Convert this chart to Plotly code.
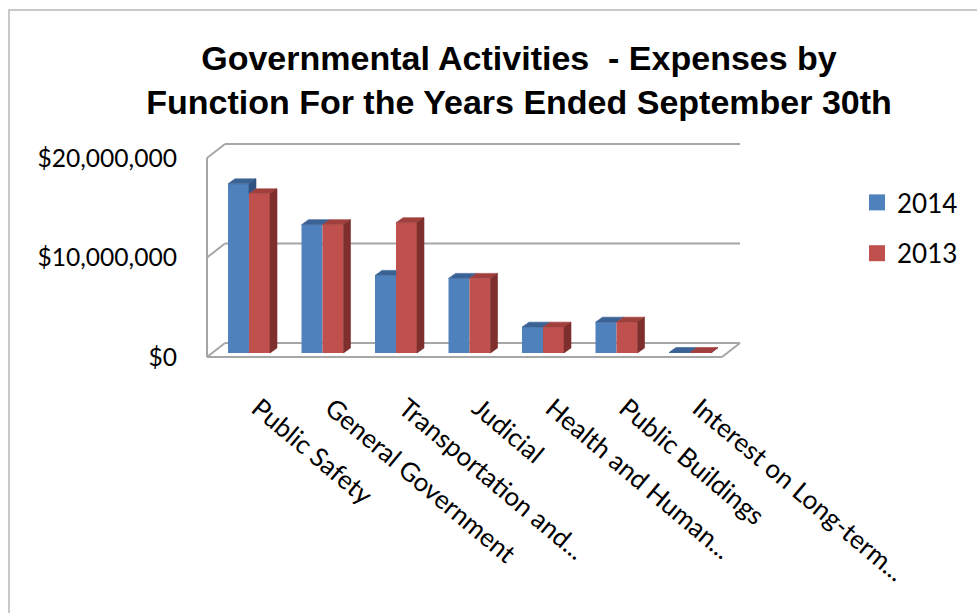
import plotly.graph_objects as go

# ---------------- data ----------------
categories = ["Public Safety", "General Government", "Transportation and...", "Judicial",
              "Health and Human...", "Public Buildings", "Interest on Long-term..."]
series_names = ["2014", "2013"]
values_2014 = [17000000, 12900000, 7800000, 7500000, 2600000, 3100000, 50000]
values_2013 = [16000000, 12900000, 13100000, 7500000, 2600000, 3100000, 50000]
y_tick_values = [0, 10000000, 20000000]
y_tick_labels = ["$0", "$10,000,000", "$20,000,000"]

# ---------------- style / geometry ----------------
W, H = 977, 613
PL, PR, PT, PB = 204, 744, 140, 360          # plot area in pixels
CAT0_PX, CAT_PX = 249, 73.5                  # pixel of category 0 centre, pixels per category
ZERO_PX, PX_PER_UNIT_Y = 353, 9.95 / 1e6     # pixel of y=0 (bar plane), px per dollar

def dx(px):
    return px / CAT_PX

def dy(px):
    return px / PX_PER_UNIT_Y

x_range = [dx(PL - CAT0_PX), dx(PR - CAT0_PX)]
y_range = [dy(ZERO_PX - PB), dy(ZERO_PX - PT)]

BW = dx(21)          # bar width
DX, DY = dx(7), dy(5)  # bar depth

BLUE, BLUE_TOP, BLUE_SIDE = "#4f81bd", "#3a6294", "#2f5181"
RED, RED_TOP, RED_SIDE = "#c0504d", "#a03f3c", "#7e2f2d"
WALL = "#a6a6a6"
FONT = "Lato"

xs = list(range(len(categories)))

fig = go.Figure()

fig.add_trace(go.Bar(x=xs, y=values_2014, name=series_names[0], offset=-BW, width=BW,
                     marker=dict(color=BLUE, line=dict(width=0)), showlegend=False))
fig.add_trace(go.Bar(x=xs, y=values_2013, name=series_names[1], offset=0, width=BW,
                     marker=dict(color=RED, line=dict(width=0)), showlegend=False))

# 3D faces computed from the data
blue_top_x, blue_top_y, blue_side_x, blue_side_y = [], [], [], []
red_top_x, red_top_y, red_side_x, red_side_y = [], [], [], []
for i, (vb, vr) in enumerate(zip(values_2014, values_2013)):
    xl_b, xr_b = i - BW, i
    xl_r, xr_r = i, i + BW
    red_top_x += [xl_r, xr_r, xr_r + DX, xl_r + DX, xl_r, None]
    red_top_y += [vr, vr, vr + DY, vr + DY, vr, None]
    red_side_x += [xr_r, xr_r + DX, xr_r + DX, xr_r, xr_r, None]
    red_side_y += [0, DY, vr + DY, vr, 0, None]
    if vb >= vr:
        blue_top_x += [xl_b, xr_b, xr_b + DX, xl_b + DX, xl_b, None]
        blue_top_y += [vb, vb, vb + DY, vb + DY, vb, None]
        if vb > vr:
            blue_side_x += [xr_b, xr_b + DX, xr_b + DX, xr_b, xr_b, None]
            blue_side_y += [vr, vr + DY, vb + DY, vb, vr, None]
    else:
        blue_top_x += [xl_b, xr_b, xr_b, xl_b + DX, xl_b, None]
        blue_top_y += [vb, vb, vb + DY, vb + DY, vb, None]

for fx, fy, col in [(blue_top_x, blue_top_y, BLUE_TOP), (blue_side_x, blue_side_y, BLUE_SIDE),
                    (red_top_x, red_top_y, RED_TOP), (red_side_x, red_side_y, RED_SIDE)]:
    if fx:
        fig.add_trace(go.Scatter(x=fx, y=fy, mode="lines", fill="toself", fillcolor=col,
                                 line=dict(width=0.6, color=col), hoverinfo="skip",
                                 showlegend=False))

# legend proxies
for name, col in zip(series_names, [BLUE, RED]):
    fig.add_trace(go.Scatter(x=[None], y=[None], mode="markers", name=name, legendgroup=name,
                             marker=dict(symbol="square", size=16, color=col)))

# walls and floor (3D frame)
XF_L, XB_L = dx(207 - CAT0_PX), dx(225 - CAT0_PX)
XF_R, XB_R = dx(722 - CAT0_PX), dx(740 - CAT0_PX)
YF, YB = -dy(4), dy(10)
shapes = []
def seg(x0, y0, x1, y1):
    shapes.append(dict(type="line", xref="x", yref="y", x0=x0, y0=y0, x1=x1, y1=y1,
                       line=dict(color=WALL, width=2), layer="below"))
for v in y_tick_values:
    seg(XB_L, v + YB, XB_R, v + YB)
    seg(XF_L, v + YF, XB_L, v + YB)
seg(XF_L, YF, XF_L, y_tick_values[-1] + YF)
seg(XF_L, YF, XF_R, YF)
seg(XF_R, YF, XB_R, YB)

# outer chart border
def px_x(X):
    return (X - PL) / (PR - PL)
def px_y(Y):
    return (PB - Y) / (PB - PT)
shapes.append(dict(type="rect", xref="paper", yref="paper", x0=px_x(9), y0=px_y(625),
                   x1=px_x(1000), y1=px_y(10), line=dict(color="#c9c9c9", width=2),
                   fillcolor="rgba(0,0,0,0)", layer="below"))

fig.update_layout(
    width=W, height=H,
    margin=dict(l=PL, r=W - PR, t=PT, b=H - PB, autoexpand=False),
    paper_bgcolor="white", plot_bgcolor="white",
    barmode="overlay",
    shapes=shapes,
    title=dict(text="Governmental Activities  - Expenses by<br>Function For the Years Ended September 30th",
               font=dict(family="Liberation Sans, Arial", size=34, color="black", weight="bold"),
               x=519 / W, xanchor="center", xref="container",
               y=1 - 70 / H, yanchor="top", yref="container"),
    xaxis=dict(range=x_range, tickvals=xs, ticktext=categories, tickangle=40,
               showgrid=False, zeroline=False, showline=False, ticks="",
               tickfont=dict(family=FONT, size=26, color="black"), ticklabelstandoff=27,
               ticklabelshift=9),
    yaxis=dict(range=y_range, tickvals=y_tick_values, ticktext=y_tick_labels,
               showgrid=False, zeroline=False, showline=False, ticks="",
               tickfont=dict(family=FONT, size=24.6, color="black"),
               ticklabelstandoff=26, ticklabelshift=4),
    legend=dict(xref="container", yref="container", x=857 / W, y=1 - 179 / H,
                xanchor="left", yanchor="top", font=dict(family=FONT, size=26, color="black"),
                tracegroupgap=14, bgcolor="rgba(0,0,0,0)"),
    showlegend=True,
)

fig.write_html("out.html")
